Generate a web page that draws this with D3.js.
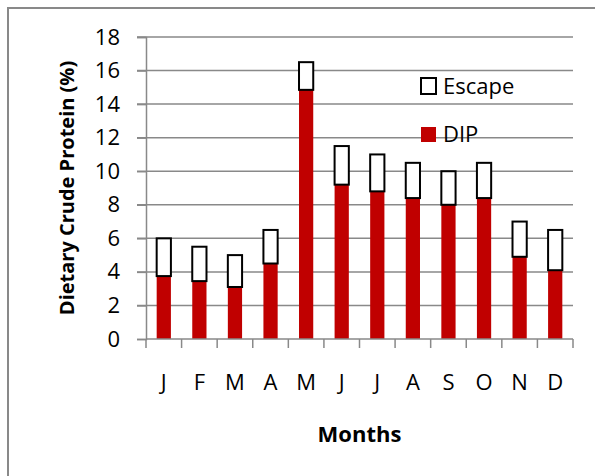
<!DOCTYPE html>
<html>
<head>
<meta charset="utf-8">
<script src="https://cdn.jsdelivr.net/npm/d3@7/dist/d3.min.js"></script>
<style>
  html, body { margin: 0; padding: 0; background: #fff; }
  svg { display: block; }
  text { font-family: "Open Sans", "Noto Sans", sans-serif; fill: #000; }
</style>
</head>
<body>
<svg id="chart" width="595" height="476"></svg>
<script>
// Monthly dietary crude protein, split into degradable (DIP) and escape fractions
const months = ["J", "F", "M", "A", "M", "J", "J", "A", "S", "O", "N", "D"];
const dip    = [3.75, 3.45, 3.1, 4.5, 14.85, 9.2, 8.8, 8.4, 8.0, 8.4, 4.9, 4.1];
const escape = [2.25, 2.05, 1.9, 2.0, 1.65, 2.3, 2.2, 2.1, 2.0, 2.1, 2.1, 2.4];
const yTicks = [0, 2, 4, 6, 8, 10, 12, 14, 16, 18];
const seriesNames = ["Escape", "DIP"];

const svg = d3.select("#chart");
const plot = { left: 146, right: 573, top: 37, bottom: 339 };

// outer frame of the chart area
svg.append("path")
  .attr("d", "M8,476 L8,8 L595,8")
  .attr("fill", "none").attr("stroke", "#898989").attr("stroke-width", 2);

const x = d3.scaleBand().domain(d3.range(months.length)).range([plot.left, plot.right]).paddingInner(0.6).paddingOuter(0.3);
const xBand = d3.scaleBand().domain(d3.range(months.length)).range([plot.left, plot.right]);
const y = d3.scaleLinear().domain([0, 18]).range([plot.bottom, plot.top]);

// horizontal gridlines, extended left as the outer tick marks
svg.append("g").selectAll("line").data(yTicks.filter(t => t > 0)).join("line")
  .attr("x1", plot.left - 9).attr("x2", plot.right)
  .attr("y1", d => y(d)).attr("y2", d => y(d))
  .attr("stroke", "#898989").attr("stroke-width", 1.5);

// y axis
const yAxis = svg.append("g").attr("transform", `translate(${plot.left},0)`)
  .call(d3.axisLeft(y).tickValues(yTicks).tickSize(9).tickPadding(17));
yAxis.select(".domain").attr("stroke", "#898989").attr("stroke-width", 1.5);
yAxis.selectAll(".tick line").attr("stroke", "#898989").attr("stroke-width", 1.5);
yAxis.selectAll(".tick text").attr("font-size", 22).attr("font-family", "Open Sans").attr("fill", "#000");

// stacked bars: DIP at the base, Escape on top
const bars = svg.append("g");
bars.selectAll("rect.dip").data(dip).join("rect")
  .attr("class", "dip")
  .attr("x", (d, i) => x(i)).attr("width", x.bandwidth())
  .attr("y", d => y(d)).attr("height", d => y(0) - y(d))
  .attr("fill", "#C00000");
bars.selectAll("rect.esc").data(escape).join("rect")
  .attr("class", "esc")
  .attr("x", (d, i) => x(i)).attr("width", x.bandwidth())
  .attr("y", (d, i) => y(dip[i] + d)).attr("height", (d, i) => y(dip[i]) - y(dip[i] + d))
  .attr("fill", "#fff").attr("stroke", "#000").attr("stroke-width", 2);

// x axis with ticks at category boundaries
const xAxisG = svg.append("g");
xAxisG.append("line").attr("x1", plot.left).attr("x2", plot.right).attr("y1", plot.bottom).attr("y2", plot.bottom)
  .attr("stroke", "#898989").attr("stroke-width", 1.5);
const bounds = d3.range(months.length + 1).map(i => i < months.length ? xBand(i) : plot.right);
xAxisG.selectAll("line.tk").data(bounds).join("line").attr("class", "tk")
  .attr("x1", d => d).attr("x2", d => d).attr("y1", plot.bottom).attr("y2", plot.bottom + 9)
  .attr("stroke", "#898989").attr("stroke-width", 1.5);
xAxisG.selectAll("text").data(months).join("text")
  .attr("x", (d, i) => xBand(i) + xBand.bandwidth() / 2).attr("y", 390)
  .attr("text-anchor", "middle").attr("font-size", 22).text(d => d);

// axis titles
svg.append("text").attr("x", (plot.left + plot.right) / 2).attr("y", 442)
  .attr("text-anchor", "middle").attr("font-size", 22).attr("font-weight", "bold").text("Months");
svg.append("text").attr("transform", "translate(74,188) rotate(-90)")
  .attr("text-anchor", "middle").attr("font-size", 20).attr("font-weight", "bold")
  .text("Dietary Crude Protein (%)");

// legend
const legend = svg.append("g");
legend.append("rect").attr("x", 421).attr("y", 78).attr("width", 15).attr("height", 16)
  .attr("fill", "#fff").attr("stroke", "#000").attr("stroke-width", 2);
legend.append("rect").attr("x", 421).attr("y", 127).attr("width", 15).attr("height", 15)
  .attr("fill", "#C00000");
legend.selectAll("text").data(seriesNames).join("text")
  .attr("x", 443).attr("y", (d, i) => i === 0 ? 94 : 142)
  .attr("font-size", 22).text(d => d);
</script>
</body>
</html>
